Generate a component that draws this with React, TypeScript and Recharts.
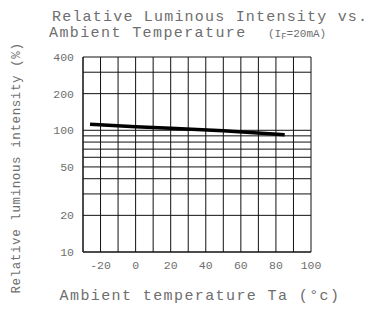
import { LineChart, Line, XAxis, YAxis, CartesianGrid } from "recharts";

// temperature (°C) vs relative luminous intensity (%)
const temps = [-26, 0, 20, 50, 85];
const intensity = [112, 107, 104, 99, 92];

const xTicks = [-30, -20, -10, 0, 10, 20, 30, 40, 50, 60, 70, 80, 90, 100];
const xLabels = [-20, 0, 20, 40, 60, 80, 100];
const yTicks = [10, 20, 30, 40, 50, 60, 70, 80, 90, 100, 200, 300, 400];
const yLabels = [10, 20, 50, 100, 200, 400];

const data = temps.map((t, i) => ({ t, v: intensity[i] }));

const font = "'Liberation Mono', 'DejaVu Sans Mono', monospace";
const textColor = "#6e6e6e";

export default function App() {
  return (
    <div style={{ position: "absolute", left: 0, top: 0, width: 372, height: 310, background: "#fff" }}>
      <LineChart
        width={372}
        height={310}
        data={data}
        margin={{ top: 57, right: 61, bottom: 0, left: 0 }}
      >
        <CartesianGrid stroke="#111" strokeWidth={1} horizontal vertical />
        <XAxis
          dataKey="t"
          type="number"
          domain={[-30, 100]}
          ticks={xTicks}
          interval={0}
          tickFormatter={(v: number) => (xLabels.includes(v) ? String(v) : "")}
          tickLine={false}
          tickSize={0}
          tickMargin={9}
          height={58}
          axisLine={{ stroke: "#111" }}
          tick={{ fill: textColor, fontSize: 11.5, fontFamily: font }}
        />
        <YAxis
          type="number"
          scale="log"
          domain={[10, 400]}
          ticks={yTicks}
          interval={0}
          allowDataOverflow
          tickFormatter={(v: number) => (yLabels.includes(v) ? String(v) : "")}
          tickLine={false}
          tickSize={0}
          tickMargin={9}
          width={83}
          axisLine={{ stroke: "#111" }}
          tick={{ fill: textColor, fontSize: 11.5, fontFamily: font }}
        />
        <Line
          dataKey="v"
          type="linear"
          stroke="#000"
          strokeWidth={3.5}
          dot={false}
          isAnimationActive={false}
        />
      </LineChart>
      <svg
        width={372}
        height={310}
        style={{ position: "absolute", left: 0, top: 0, pointerEvents: "none" }}
      >
        <text x={52} y={21} fontFamily={font} fontSize={15} letterSpacing={1.2} fill={textColor}>
          Relative Luminous Intensity vs.
        </text>
        <text x={49} y={37} fontFamily={font} fontSize={15} letterSpacing={1.4} fill={textColor}>
          Ambient Temperature
        </text>
        <text x={268} y={37} fontFamily={font} fontSize={11} fill={textColor}>
          (I<tspan fontSize={9} dy={2}>F</tspan>
          <tspan dy={-2}>=20mA)</tspan>
        </text>
        <text
          x={200}
          y={300}
          textAnchor="middle"
          fontFamily={font}
          fontSize={15}
          letterSpacing={1.4}
          fill={textColor}
        >
          Ambient temperature Ta (°c)
        </text>
        <text
          transform="translate(20,168) rotate(-90)"
          textAnchor="middle"
          fontFamily={font}
          fontSize={12.5}
          letterSpacing={0.6}
          fill={textColor}
        >
          Relative luminous intensity (%)
        </text>
      </svg>
    </div>
  );
}
